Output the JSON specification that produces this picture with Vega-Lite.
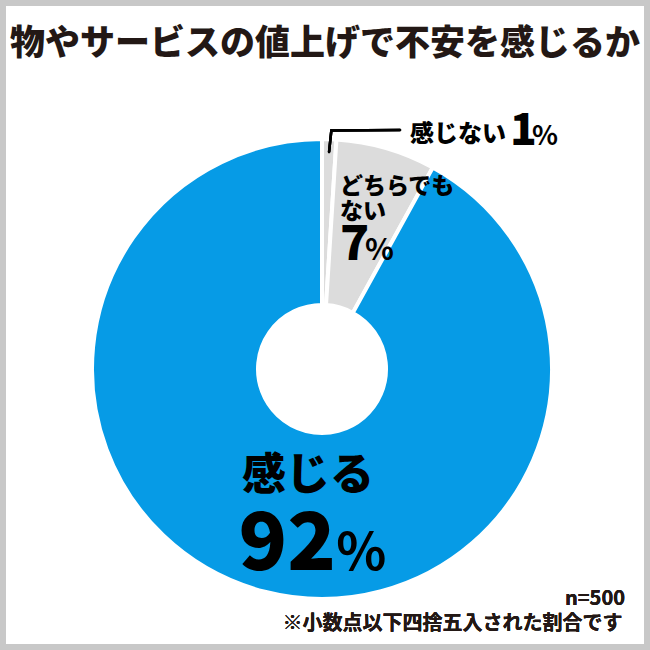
{
  "$schema": "https://vega.github.io/schema/vega-lite/v6.json",
  "autosize": {"type": "fit", "contains": "padding"},
  "width": 650,
  "height": 650,
  "padding": 0,
  "background": "white",
  "view": {"stroke": "#c8c8c8", "strokeWidth": 12, "fill": "white"},
  "title": {
    "text": "物やサービスの値上げで不安を感じるか",
    "font": "Noto Sans CJK JP",
    "fontSize": 35,
    "fontWeight": 900,
    "color": "#231815",
    "anchor": "middle",
    "frame": "group",
    "baseline": "alphabetic",
    "offset": -90
  },
  "data": {
    "values": [
      {"category": "感じない", "label": "感じない", "value": 1},
      {"category": "どちらでもない", "label": "どちらでも\nない", "value": 7},
      {"category": "感じる", "label": "感じる", "value": 92}
    ]
  },
  "layer": [
    {
      "mark": {"type": "arc", "outerRadius": 230, "innerRadius": 64, "stroke": "white", "strokeWidth": 4},
      "encoding": {
        "theta": {"field": "value", "type": "quantitative", "stack": true},
        "order": {"field": "value", "type": "quantitative", "sort": "ascending"},
        "color": {"field": "category", "type": "nominal", "scale": {"domain": ["感じない", "どちらでもない", "感じる"], "range": ["#dcdcdc", "#dcdcdc", "#069be6"]}, "legend": null},
        "x": {"datum": 0, "type": "quantitative", "scale": {"domain": [-1.4123, 1.4386], "nice": false, "zero": false}, "axis": null},
        "y": {"datum": 0, "type": "quantitative", "scale": {"domain": [-1.2325, 1.6184], "nice": false, "zero": false}, "axis": null}
      }
    },
    {
      "transform": [{"filter": "datum.category === '感じる'"}],
      "mark": {"type": "text", "font": "Noto Sans CJK JP", "fontWeight": 900, "fontSize": 44, "align": "center", "baseline": "alphabetic", "color": "#000000"},
      "encoding": {"text": {"field": "label"}, "x": {"datum": -0.061, "type": "quantitative"}, "y": {"datum": -0.531, "type": "quantitative"}}
    },
    {
      "transform": [{"filter": "datum.category === '感じる'"}],
      "mark": {"type": "text", "font": "Noto Sans CJK JP", "fontWeight": 900, "fontSize": 80, "align": "right", "baseline": "alphabetic", "color": "#000000"},
      "encoding": {"text": {"field": "value"}, "x": {"datum": 0.061, "type": "quantitative"}, "y": {"datum": -0.882, "type": "quantitative"}}
    },
    {
      "transform": [{"filter": "datum.category === '感じる'"}],
      "mark": {"type": "text", "font": "Noto Sans CJK JP", "fontWeight": 700, "fontSize": 52, "align": "left", "baseline": "alphabetic", "color": "#000000", "text": "%"},
      "encoding": {"x": {"datum": 0.063, "type": "quantitative"}, "y": {"datum": -0.882, "type": "quantitative"}}
    },
    {
      "transform": [{"filter": "datum.category === 'どちらでもない'"}],
      "mark": {"type": "text", "font": "Noto Sans CJK JP", "fontWeight": 900, "fontSize": 23, "lineHeight": 25, "lineBreak": "\n", "align": "left", "baseline": "alphabetic", "color": "#000000"},
      "encoding": {"text": {"field": "label"}, "x": {"datum": 0.079, "type": "quantitative"}, "y": {"datum": 0.768, "type": "quantitative"}}
    },
    {
      "transform": [{"filter": "datum.category === 'どちらでもない'"}],
      "mark": {"type": "text", "font": "Noto Sans CJK JP", "fontWeight": 900, "fontSize": 48, "align": "left", "baseline": "alphabetic", "color": "#000000"},
      "encoding": {"text": {"field": "value"}, "x": {"datum": 0.079, "type": "quantitative"}, "y": {"datum": 0.478, "type": "quantitative"}}
    },
    {
      "transform": [{"filter": "datum.category === 'どちらでもない'"}],
      "mark": {"type": "text", "font": "Noto Sans CJK JP", "fontWeight": 700, "fontSize": 30, "align": "left", "baseline": "alphabetic", "color": "#000000", "text": "%"},
      "encoding": {"x": {"datum": 0.189, "type": "quantitative"}, "y": {"datum": 0.478, "type": "quantitative"}}
    },
    {
      "transform": [{"filter": "datum.category === '感じない'"}],
      "mark": {"type": "text", "font": "Noto Sans CJK JP", "fontWeight": 900, "fontSize": 24, "align": "left", "baseline": "alphabetic", "color": "#000000"},
      "encoding": {"text": {"field": "label"}, "x": {"datum": 0.386, "type": "quantitative"}, "y": {"datum": 0.996, "type": "quantitative"}}
    },
    {
      "transform": [{"filter": "datum.category === '感じない'"}],
      "mark": {"type": "text", "font": "Noto Sans CJK JP", "fontWeight": 900, "fontSize": 44, "align": "left", "baseline": "alphabetic", "color": "#000000"},
      "encoding": {"text": {"field": "value"}, "x": {"datum": 0.825, "type": "quantitative"}, "y": {"datum": 0.982, "type": "quantitative"}}
    },
    {
      "transform": [{"filter": "datum.category === '感じない'"}],
      "mark": {"type": "text", "font": "Noto Sans CJK JP", "fontWeight": 700, "fontSize": 27, "align": "left", "baseline": "alphabetic", "color": "#000000", "text": "%"},
      "encoding": {"x": {"datum": 0.921, "type": "quantitative"}, "y": {"datum": 0.982, "type": "quantitative"}}
    },
    {
      "mark": {"type": "rule", "color": "#000000", "strokeWidth": 2.5, "strokeCap": "round"},
      "encoding": {
        "x": {"datum": 0.031, "type": "quantitative"},
        "y": {"datum": 0.952, "type": "quantitative"},
        "x2": {"datum": 0.041},
        "y2": {"datum": 1.046}
      }
    },
    {
      "mark": {"type": "rule", "color": "#000000", "strokeWidth": 2.5, "strokeCap": "round"},
      "encoding": {
        "x": {"datum": 0.041, "type": "quantitative"},
        "y": {"datum": 1.046, "type": "quantitative"},
        "x2": {"datum": 0.342},
        "y2": {"datum": 1.048}
      }
    },
    {
      "mark": {"type": "text", "font": "Noto Sans CJK JP", "fontWeight": 700, "fontSize": 20, "align": "right", "baseline": "alphabetic", "color": "#231815", "text": "n=500"},
      "encoding": {"x": {"datum": 1.329, "type": "quantitative"}, "y": {"datum": -1.035, "type": "quantitative"}}
    },
    {
      "mark": {"type": "text", "font": "Noto Sans CJK JP", "fontWeight": 700, "fontSize": 20, "align": "right", "baseline": "alphabetic", "color": "#231815", "text": "※小数点以下四捨五入された割合です"},
      "encoding": {"x": {"datum": 1.318, "type": "quantitative"}, "y": {"datum": -1.145, "type": "quantitative"}}
    }
  ],
  "config": {
    "axis": {"disable": true}
  }
}
